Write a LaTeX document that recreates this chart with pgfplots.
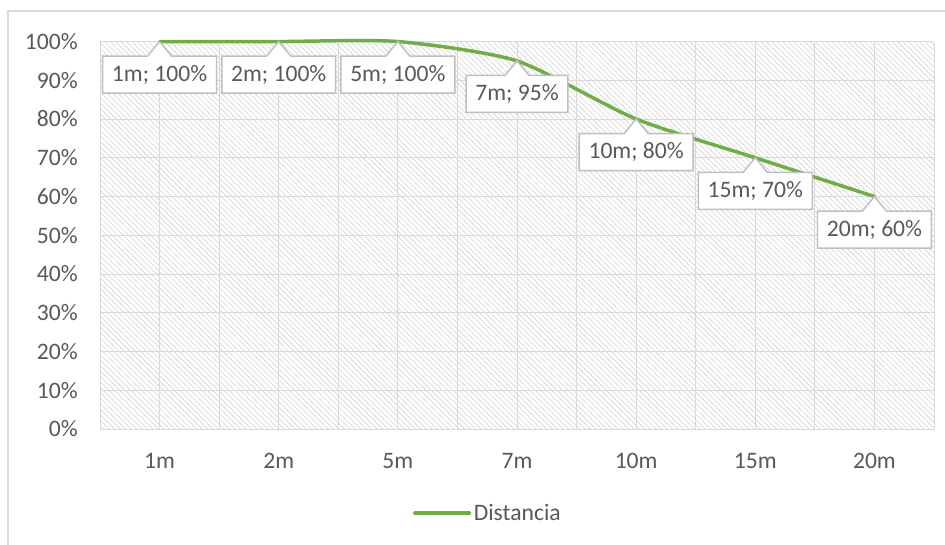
\documentclass[border=0pt]{standalone}
\usepackage{pgfplots}
\pgfplotsset{compat=1.18}
\usepackage{fontspec}
\setmainfont{Carlito}
\usetikzlibrary{patterns.meta,shapes.callouts}
\definecolor{txt}{HTML}{595959}
\definecolor{grd}{HTML}{D9D9D9}
\definecolor{hatch}{HTML}{D2D2D2}
\definecolor{lgreen}{HTML}{70AD47}
\definecolor{lblborder}{HTML}{BFBFBF}
\begin{document}
\begin{tikzpicture}
\useasboundingbox (0,0) rectangle (708.75pt,408pt);
\fill[white] (0,0) rectangle (708.75pt,408pt);
\draw[grd, line width=1pt] (6pt,-5pt) -- (6pt,399.75pt) -- (715pt,399.75pt);
\begin{axis}[
  at={(75pt,86.25pt)}, anchor=south west,
  scale only axis, width=625.5pt, height=290.6pt,
  xmin=-0.5, xmax=6.5, ymin=0, ymax=100,
  clip=false,
  font=\fontsize{17.7pt}{21pt}\selectfont,
  axis line style={draw=none},
  xtick={0,...,6}, xticklabels={1m,2m,5m,7m,10m,15m,20m},
  minor xtick={-0.5,0.5,...,6.5},
  ytick={0,10,...,100},
  yticklabels={0\%,10\%,20\%,30\%,40\%,50\%,60\%,70\%,80\%,90\%,100\%},
  major tick length=0pt, minor tick length=0pt,
  xmajorgrids, xminorgrids, ymajorgrids,
  major grid style={grd, line width=0.75pt},
  minor grid style={grd, line width=0.75pt},
  tick label style={text=txt, inner sep=0pt},
  xticklabel style={yshift=-18pt},
  yticklabel style={xshift=-16.5pt},
  axis background/.style={pattern={Lines[angle=-45,distance=2.9pt,line width=0.45pt]}, pattern color=hatch},
  legend style={at={(0.375,-0.217)}, anchor=west, draw=none, fill=none, inner sep=0pt, text=txt, nodes={inner sep=2pt}},
  legend image code/.code={\draw[lgreen, line width=2.6pt, line cap=round] (0pt,0pt) -- (41pt,0pt);},
]
\addplot[lgreen, line width=2.6pt, smooth, tension=0.4, line cap=round,
  point meta=explicit symbolic,
  nodes near coords={\pgfplotspointmeta; \pgfmathprintnumber[assume math mode=true]{\pgfkeysvalueof{/data point/y}}\%},
  every node near coord/.append style={rectangle callout, draw=lblborder, fill=white, line width=1.1pt, text=txt,
    anchor=center, yshift=-24.75pt, callout relative pointer={(0pt,10.9pt)}, callout pointer width=18pt,
    inner xsep=7pt, inner ysep=0pt, minimum height=27.75pt}
] table[meta=label] {
x y label
0 100 1m
1 100 2m
2 100 5m
3 95 7m
4 80 10m
5 70 15m
6 60 20m
};
\addlegendentry{Distancia}
\end{axis}
\end{tikzpicture}
\end{document}
